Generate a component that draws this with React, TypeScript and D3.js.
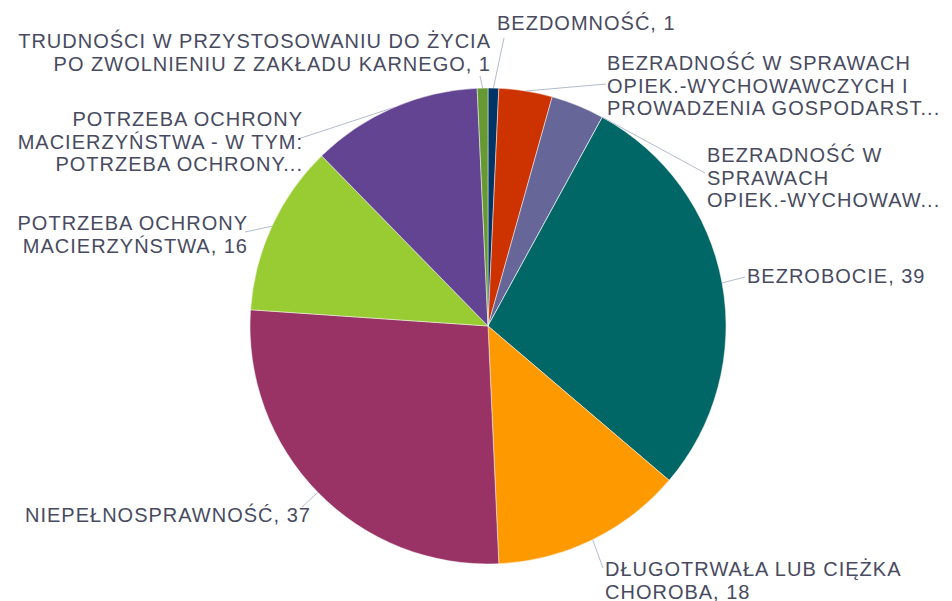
import React from "react";
import * as d3 from "d3";

const categories = [
  "BEZDOMNOŚĆ",
  "BEZRADNOŚĆ W SPRAWACH OPIEK.-WYCHOWAWCZYCH I PROWADZENIA GOSPODARSTWA DOMOWEGO",
  "BEZRADNOŚĆ W SPRAWACH OPIEK.-WYCHOWAWCZYCH I PROWADZENIA GOSPODARSTWA DOMOWEGO - W TYM: RODZINY NIEPEŁNE",
  "BEZRADNOŚĆ W SPRAWACH OPIEK.-WYCHOWAWCZYCH I PROWADZENIA GOSPODARSTWA DOMOWEGO - W TYM: RODZINY WIELODZIETNE",
  "BEZROBOCIE",
  "DŁUGOTRWAŁA LUB CIĘŻKA CHOROBA",
  "NIEPEŁNOSPRAWNOŚĆ",
  "POTRZEBA OCHRONY MACIERZYŃSTWA",
  "POTRZEBA OCHRONY MACIERZYŃSTWA - W TYM: POTRZEBA OCHRONY WIELODZIETNOŚCI",
  "TRUDNOŚCI W PRZYSTOSOWANIU DO ŻYCIA PO ZWOLNIENIU Z ZAKŁADU KARNEGO",
];

const values = [1, 5, 5, 0, 39, 18, 37, 16, 16, 1];

const colors = [
  "#003366",
  "#CC3300",
  "#666699",
  "#006666",
  "#006666",
  "#FF9900",
  "#993366",
  "#99CC33",
  "#634492",
  "#669933",
];

// Displayed (wrapped / truncated) label text; null = label hidden
const labelLines: (string[] | null)[] = [
  ["BEZDOMNOŚĆ, 1"],
  ["BEZRADNOŚĆ W SPRAWACH", "OPIEK.-WYCHOWAWCZYCH I", "PROWADZENIA GOSPODARST..."],
  null,
  ["BEZRADNOŚĆ W", "SPRAWACH", "OPIEK.-WYCHOWAW..."],
  ["BEZROBOCIE, 39"],
  ["DŁUGOTRWAŁA LUB CIĘŻKA", "CHOROBA, 18"],
  ["NIEPEŁNOSPRAWNOŚĆ, 37"],
  ["POTRZEBA OCHRONY", "MACIERZYŃSTWA, 16"],
  ["POTRZEBA OCHRONY", "MACIERZYŃSTWA - W TYM:", "POTRZEBA OCHRONY..."],
  ["TRUDNOŚCI W PRZYSTOSOWANIU DO ŻYCIA", "PO ZWOLNIENIU Z ZAKŁADU KARNEGO, 1"],
];

// layout of labels: text anchor point, first baseline, leader end point
const labelLayout: Record<number, { anchor: "start" | "end"; x: number; y: number; lx: number; ly: number }> = {
  0: { anchor: "start", x: 497, y: 30, lx: 504, ly: 38 },
  1: { anchor: "start", x: 607, y: 70, lx: 606, ly: 84 },
  3: { anchor: "start", x: 707, y: 162, lx: 705, ly: 173 },
  4: { anchor: "start", x: 747, y: 283, lx: 745, ly: 277 },
  5: { anchor: "start", x: 605, y: 576, lx: 603, ly: 568 },
  6: { anchor: "start", x: 25, y: 522, lx: 302, ly: 507 },
  7: { anchor: "end", x: 248, y: 230, lx: 245, ly: 232 },
  8: { anchor: "end", x: 303, y: 126, lx: 298, ly: 139 },
  9: { anchor: "end", x: 491, y: 48, lx: 480, ly: 76 },
};

const W = 952;
const H = 601;
const CX = 488;
const CY = 326;
const R = 238;
const LINE_H = 22.5;

export default function App() {
  const pie = d3.pie<number>().sort(null).value((d) => d);
  const arcs = pie(values);
  const arc = d3.arc<d3.PieArcDatum<number>>().innerRadius(0).outerRadius(R);
  const edge = d3.arc<d3.PieArcDatum<number>>().innerRadius(R).outerRadius(R);

  return (
    <svg
      width={W}
      height={H}
      style={{ position: "absolute", left: 0, top: 0, background: "#fff" }}
      fontFamily="'Liberation Sans', Arial, sans-serif"
    >
      <g transform={`translate(${CX},${CY})`}>
        {arcs.map((a, i) => (
          <path key={i} d={arc(a) || ""} fill={colors[i]} stroke="#ffffff" strokeWidth={0.6} strokeOpacity={0.8} />
        ))}
      </g>
      {arcs.map((a, i) => {
        const lines = labelLines[i];
        const lay = labelLayout[i];
        if (!lines || !lay) return null;
        const [ex, ey] = edge.centroid(a);
        return (
          <g key={"l" + i}>
            <line x1={CX + ex} y1={CY + ey} x2={lay.lx} y2={lay.ly} stroke="#b3bccd" strokeWidth={1} />
            {lines.map((t, j) => (
              <text
                key={j}
                x={lay.x}
                y={lay.y + j * LINE_H}
                textAnchor={lay.anchor}
                fontSize={20}
                letterSpacing={1}
                fill="#484b5f"
              >
                {t}
              </text>
            ))}
          </g>
        );
      })}
    </svg>
  );
}
